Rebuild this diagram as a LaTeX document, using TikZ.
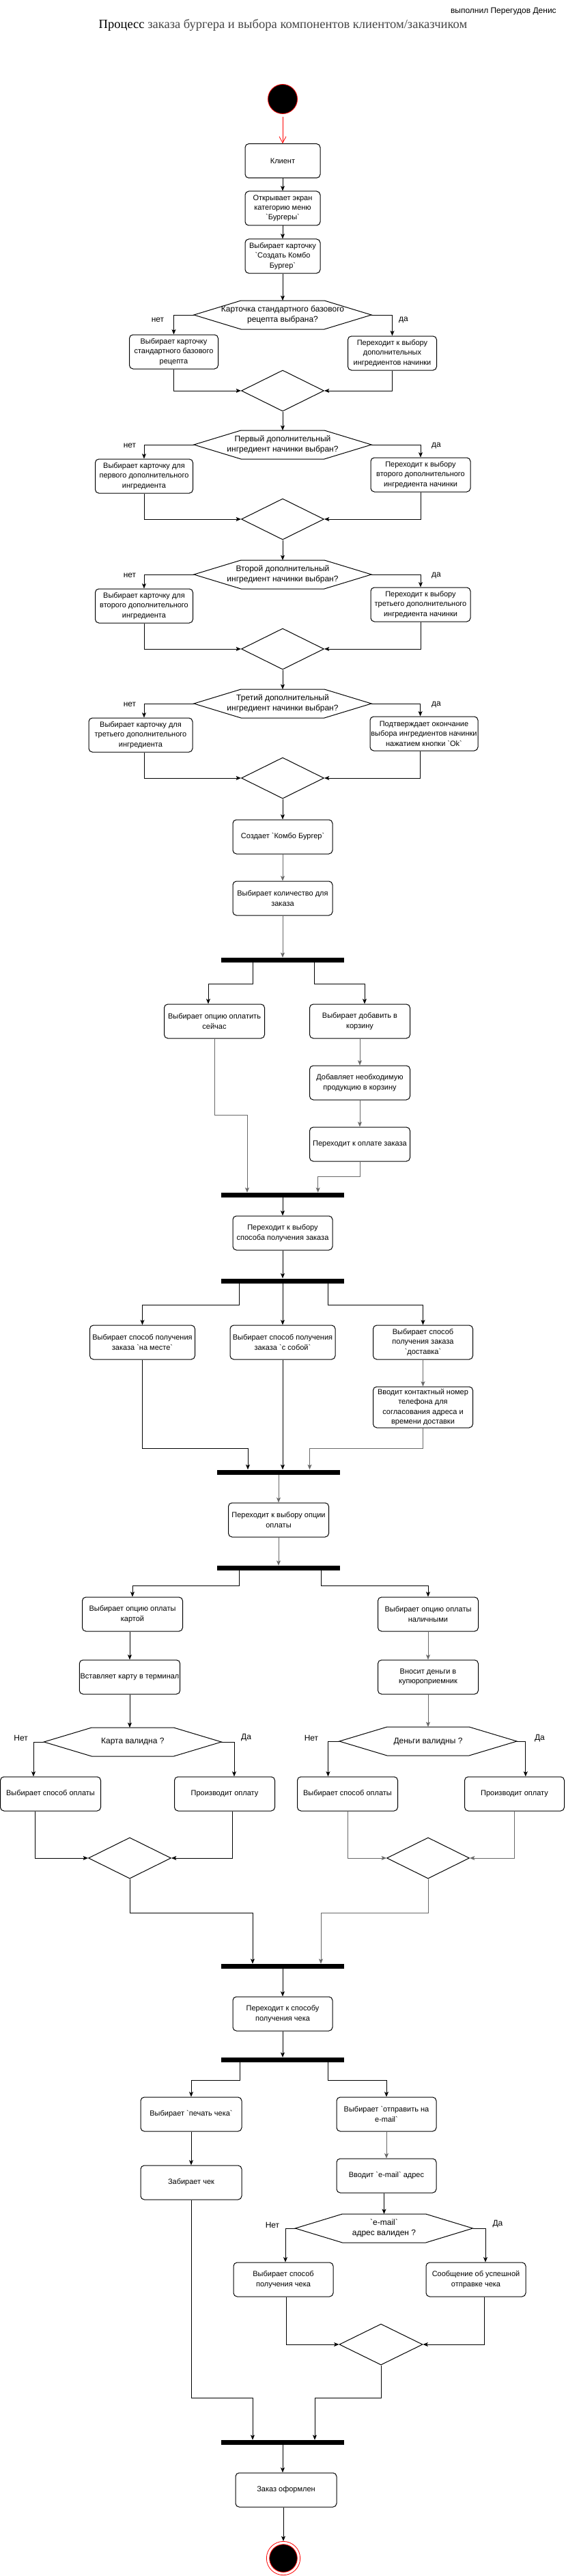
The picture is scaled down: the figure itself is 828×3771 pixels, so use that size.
\documentclass[tikz,border=0pt]{standalone}
\usepackage{fontspec}
\setmainfont{Liberation Sans}[Ligatures=TeXOff]
\newfontfamily\seriffont{Liberation Serif}
\usetikzlibrary{arrows.meta,calc,shapes.geometric}
\definecolor{lg}{RGB}{105,105,105}
\definecolor{titlegray}{RGB}{70,70,70}
\newcommand\boxfont{\fontsize{8.25pt}{10.7pt}\selectfont}
\newcommand\hexfont{\fontsize{9pt}{11.5pt}\selectfont}
\newcommand\lblfont{\fontsize{9pt}{11pt}\selectfont}
\newcommand\hexdraw[2]{\draw[hexline] (#1.west) -- ($(#1.north west)+(#2,0)$) -- ($(#1.north east)+(-#2,0)$) -- (#1.east) -- ($(#1.south east)+(-#2,0)$) -- ($(#1.south west)+(#2,0)$) -- cycle;}
\begin{document}
\begin{tikzpicture}[x=0.75pt, y=-0.75pt,
 actbox/.style={draw, line width=0.75pt, rounded corners=4pt, align=center, font=\boxfont, inner sep=1pt, minimum height=37.5pt, minimum width=#1*0.75pt},
 actbox/.default=110,
 hexnode/.style={rectangle, inner sep=0pt, outer sep=0pt, align=center, font=\hexfont, minimum width=#1*0.75pt, minimum height=31.5pt},
 hexnode/.default=260,
 hexline/.style={line width=0.75pt},
 mergedia/.style={diamond, draw, line width=0.75pt, inner sep=0pt, minimum width=90.75pt, minimum height=45pt},
 syncbar/.style={fill=black, inner sep=0pt, minimum width=135pt, minimum height=5.25pt},
 lbl/.style={font=\lblfont, inner sep=0pt},
 arr/.style={draw=black, line width=0.6pt, -{Stealth[length=5.5pt,width=4.5pt,inset=1.3pt]}},
 garr/.style={arr, draw=lg},
 ln/.style={draw=black, line width=0.6pt},
]
\fill[white] (0,0) rectangle (828,3771);
\useasboundingbox (0,0) rectangle (828,3771);

% header
\node[anchor=base east, font=\fontsize{9pt}{11pt}\selectfont, inner sep=0pt] (author) at (815,19.5) {выполнил Перегудов Денис};
\node[anchor=base, font=\seriffont\fontsize{13.9pt}{16pt}\selectfont, inner sep=0pt] (title) at (414.5,42) {Процесс {\color{titlegray}заказа бургера и выбора компонентов клиентом/заказчиком}};

% start
\node[circle, draw=red, line width=0.6pt, fill=black, minimum size=32.25pt, inner sep=0pt] (start) at (414,145) {};
\node[actbox] (client) at (414,235.5) {Клиент};
\node[actbox] (open) at (414,305) {Открывает экран\\категорию меню\\`Бургеры`};
\node[actbox] (card) at (414,375) {Выбирает карточку\\`Создать Комбо\\Бургер`};

% decision 1
\node[hexnode] (h1) at (414,461) {Карточка стандартного базового\\рецепта выбрана?};
\hexdraw{h1}{69}
\node[actbox=130] (b1n) at (254.5,515) {Выбирает карточку\\стандартного базового\\рецепта};
\node[actbox=130] (b1y) at (574.5,517) {Переходит к выбору\\дополнительных\\ингредиентов начинки};
\node[mergedia] (d1) at (414,572) {};
\node[lbl] (l1n) at (231,468) {нет};
\node[lbl] (l1y) at (591,468) {да};

% decision 2
\node[hexnode] (h2) at (414,651) {Первый дополнительный\\ингредиент начинки выбран?};
\hexdraw{h2}{69}
\node[actbox=143] (b2n) at (211,697) {Выбирает карточку для\\первого дополнительного\\ингредиента};
\node[actbox=146] (b2y) at (616,695) {Переходит к выбору\\второго дополнительного\\ингредиента начинки};
\node[mergedia] (d2) at (414,760) {};
\node[lbl] (l2n) at (190,652) {нет};
\node[lbl] (l2y) at (639,652) {да};

% decision 3
\node[hexnode] (h3) at (414,841) {Второй дополнительный\\ингредиент начинки выбран?};
\hexdraw{h3}{69}
\node[actbox=143] (b3n) at (211,887) {Выбирает карточку для\\второго дополнительного\\ингредиента};
\node[actbox=146] (b3y) at (616,885) {Переходит к выбору\\третьего дополнительного\\ингредиента начинки};
\node[mergedia] (d3) at (414,950) {};
\node[lbl] (l3n) at (190,842) {нет};
\node[lbl] (l3y) at (639,842) {да};

% decision 4
\node[hexnode] (h4) at (414,1030) {Третий дополнительный\\ингредиент начинки выбран?};
\hexdraw{h4}{69}
\node[actbox=152] (b4n) at (206,1076) {Выбирает карточку для\\третьего дополнительного\\ингредиента};
\node[actbox=158] (b4y) at (621,1074) {Подтверждает окончание\\выбора ингредиентов начинки\\нажатием кнопки `Ok`};
\node[mergedia] (d4) at (414,1139) {};
\node[lbl] (l4n) at (190,1031) {нет};
\node[lbl] (l4y) at (639,1031) {да};

\node[actbox=146] (combo) at (414,1225) {Создает `Комбо Бургер`};
\node[actbox=146] (qty) at (414,1315) {Выбирает количество для\\заказа};
\node[syncbar] (bar1) at (414,1405.5) {};
\node[actbox=147] (paynow) at (314,1495) {Выбирает опцию оплатить\\сейчас};
\node[actbox=147] (cart) at (527,1495) {Выбирает добавить в\\корзину};
\node[actbox=147] (addp) at (527,1585) {Добавляет необходимую\\продукцию в корзину};
\node[actbox=147] (topay) at (527,1675) {Переходит к оплате заказа};
\node[syncbar] (bar2) at (414,1749.5) {};
\node[actbox=146] (recv) at (414,1805) {Переходит к выбору\\способа получения заказа};
\node[syncbar] (bar3) at (414,1875) {};
\node[actbox=154] (onsite) at (208.5,1965) {Выбирает способ получения\\заказа `на месте`};
\node[actbox=154] (takeaway) at (414,1965) {Выбирает способ получения\\заказа `с собой`};
\node[actbox=146] (deliv) at (619.5,1965) {Выбирает способ\\получения заказа\\`доставка`};
\node[actbox=146, minimum height=45pt] (phone) at (619.5,2060) {Вводит контактный номер\\телефона для\\согласования адреса и\\времени доставки};
\node[syncbar] (bar4) at (408,2155) {};
\node[actbox=147] (payopt) at (408,2225) {Переходит к выбору опции\\оплаты};
\node[syncbar] (bar5) at (408,2295.5) {};
\node[actbox=147] (bycard) at (194,2363) {Выбирает опцию оплаты\\картой};
\node[actbox=147] (bycash) at (627,2363) {Выбирает опцию оплаты\\наличными};
\node[actbox=147] (insert) at (190,2455) {Вставляет карту в терминал};
\node[actbox=147] (cashin) at (627,2455) {Вносит деньги в\\купюроприемник};

% card validity
\node[hexnode] (hc) at (194.3,2550) {Карта валидна ?};
\hexdraw{hc}{70}
\node[actbox=147] (cn) at (74,2626) {Выбирает способ оплаты};
\node[actbox=147] (cy) at (329,2626) {Производит оплату};
\node[mergedia] (dc) at (190,2720) {};
\node[lbl] (lcn) at (30.6,2544) {Нет};
\node[lbl] (lcy) at (360.6,2544) {Да};

% cash validity
\node[hexnode] (hm) at (627,2549) {Деньги валидны ?};
\hexdraw{hm}{70}
\node[actbox=147] (mn) at (509,2626) {Выбирает способ оплаты};
\node[actbox=146] (my) at (753.5,2626) {Производит оплату};
\node[mergedia] (dm) at (627,2720) {};
\node[lbl] (lmn) at (456,2544) {Нет};
\node[lbl] (lmy) at (790.4,2545) {Да};

\node[syncbar] (bar6) at (414,2878.5) {};
\node[actbox=146] (rcpt) at (414,2948) {Переходит к способу\\получения чека};
\node[syncbar] (bar7) at (414,3015.5) {};
\node[actbox=148] (print) at (280,3095) {Выбирает `печать чека`};
\node[actbox=146] (email) at (566,3095) {Выбирает `отправить на\\e-mail`};
\node[actbox=148] (take) at (280,3195) {Забирает чек};
\node[actbox=146] (enter) at (566,3185) {Вводит `e-mail` адрес};

% email validity
\node[hexnode] (he) at (562.5,3262) {`e-mail`\\адрес валиден ?};
\hexdraw{he}{69}
\node[actbox=146] (en) at (415,3337) {Выбирает способ\\получения чека};
\node[actbox=146] (ey) at (697,3337) {Сообщение об успешной\\отправке чека};
\node[mergedia, minimum width=91.5pt] (de) at (558,3432) {};
\node[lbl] (len) at (399,3257) {Нет};
\node[lbl] (ley) at (729,3256) {Да};

\node[syncbar] (bar8) at (414,3575.5) {};
\node[actbox=148] (done) at (419,3645) {Заказ оформлен};
\node[circle, draw=red, line width=0.6pt, fill=white, minimum size=37pt, inner sep=0pt] (endo) at (415,3745) {};
\node[circle, draw=red, line width=0.6pt, fill=black, minimum size=30.5pt, inner sep=0pt] (endi) at (415,3745) {};

% ---------- connectors ----------
\draw[red, line width=0.6pt, -{Straight Barb[length=7pt,width=7.5pt]}, shorten <=3pt] (start) -- (client);
\draw[arr] (client) -- (open);
\draw[arr] (open) -- (card);
\draw[arr] (card) -- (h1);
\draw[arr] (h1.west) -| (b1n.north);
\draw[arr] (h1.east) -| (b1y.north);
\draw[arr] (b1n.south) |- (d1.west);
\draw[arr] (b1y.south) |- (d1.east);
\draw[arr] (d1) -- (h2);
\draw[arr] (h2.west) -| (b2n.north);
\draw[arr] (h2.east) -| (b2y.north);
\draw[arr] (b2n.south) |- (d2.west);
\draw[arr] (b2y.south) |- (d2.east);
\draw[arr] (d2) -- (h3);
\draw[arr] (h3.west) -| (b3n.north);
\draw[arr] (h3.east) -| (b3y.north);
\draw[arr] (b3n.south) |- (d3.west);
\draw[arr] (b3y.south) |- (d3.east);
\draw[arr] (d3) -- (h4);
\draw[arr] (h4.west) -| ($(b4n.north)+(5,0)$);
\draw[arr] (h4.east) -| ($(b4y.north)+(-5.4,0)$);
\draw[arr] ($(b4n.south)+(5,0)$) |- (d4.west);
\draw[arr] ($(b4y.south)+(-5.4,0)$) |- (d4.east);
\draw[arr] (d4) -- (combo);
\draw[garr] (combo) -- (qty);
\draw[garr] (qty) -- (bar1);
\draw[arr] ($(bar1.south)+(-43.4,0)$) -- ++(0,31) -| ($(paynow.north)+(-9,0)$);
\draw[arr] ($(bar1.south)+(46,0)$) -- ++(0,31) -| ($(cart.north)+(7,0)$);
\draw[garr] (paynow.south) -- ++(0,112) -| ($(bar2.north)+(-52,0)$);
\draw[garr] (cart) -- (addp);
\draw[garr] (addp) -- (topay);
\draw[garr] (topay.south) -- ++(0,22) -| ($(bar2.north)+(51.7,0)$);
\draw[arr] (bar2) -- (recv);
\draw[arr] (recv) -- (bar3);
\draw[arr] ($(bar3.south)+(-63.4,0)$) -- ++(0,32) -| (onsite.north);
\draw[arr] (bar3) -- (takeaway);
\draw[arr] ($(bar3.south)+(66.5,0)$) -- ++(0,32) -| (deliv.north);
\draw[garr] (deliv) -- (phone);
\draw[arr] (onsite.south) -- ++(0,130) -| ($(bar4.north)+(-45,0)$);
\draw[arr] (takeaway.south) -- (takeaway.south |- bar4.north);
\draw[garr] (phone.south) -- ++(0,30) -| ($(bar4.north)+(45.5,0)$);
\draw[garr] (bar4) -- (payopt);
\draw[garr] (payopt) -- (bar5);
\draw[arr] ($(bar5.south)+(-57.4,0)$) -- ++(0,22) -| (bycard.north);
\draw[arr] ($(bar5.south)+(62.4,0)$) -- ++(0,22) -| (bycash.north);
\draw[arr] (bycard.south -| insert.north) -- (insert.north);
\draw[garr] (bycash) -- (cashin);
\draw[arr] (insert.south) -- (insert.south |- hc.north);
\draw[garr] (cashin) -- (hm);
\draw[arr] (hc.west) -| ($(cn.north)+(-25,0)$);
\draw[arr] (hc.east) -| ($(cy.north)+(14,0)$);
\draw[arr] ($(cn.south)+(-23,0)$) |- (dc.west);
\draw[arr] ($(cy.south)+(11.5,0)$) |- (dc.east);
\draw[arr] (hm.west) -| ($(mn.north)+(-28.5,0)$);
\draw[arr] (hm.east) -| ($(my.north)+(16.3,0)$);
\draw[garr] (mn.south) |- (dm.west);
\draw[garr] (my.south) |- (dm.east);
\draw[arr] (dc.south) -- ++(0,50) -| ($(bar6.north)+(-44,0)$);
\draw[garr] (dm.south) -- ++(0,50) -| ($(bar6.north)+(56,0)$);
\draw[arr] (bar6) -- (rcpt);
\draw[arr] (rcpt) -- (bar7);
\draw[arr] ($(bar7.south)+(-63,0)$) -- ++(0,26) -| (print.north);
\draw[arr] ($(bar7.south)+(66,0)$) -- ++(0,26) -| (email.north);
\draw[arr] (print) -- (take);
\draw[garr] (email) -- (enter);
\draw[arr] (he.north |- enter.south) -- (he.north);
\draw[arr] (he.west) -| ($(en.north)+(3,0)$);
\draw[arr] (he.east) -| ($(ey.north)+(14,0)$);
\draw[arr] ($(en.south)+(4,0)$) |- (de.west);
\draw[arr] ($(ey.south)+(12,0)$) |- (de.east);
\draw[arr] (take.south) -- ++(0,290) -| ($(bar8.north)+(-44,0)$);
\draw[arr] (de.south) -- ++(0,48) -| ($(bar8.north)+(47,0)$);
\draw[arr] (bar8.south) -- (bar8.south |- done.north);
\draw[arr] (endo.north |- done.south) -- (endo.north);
\end{tikzpicture}
\end{document}
